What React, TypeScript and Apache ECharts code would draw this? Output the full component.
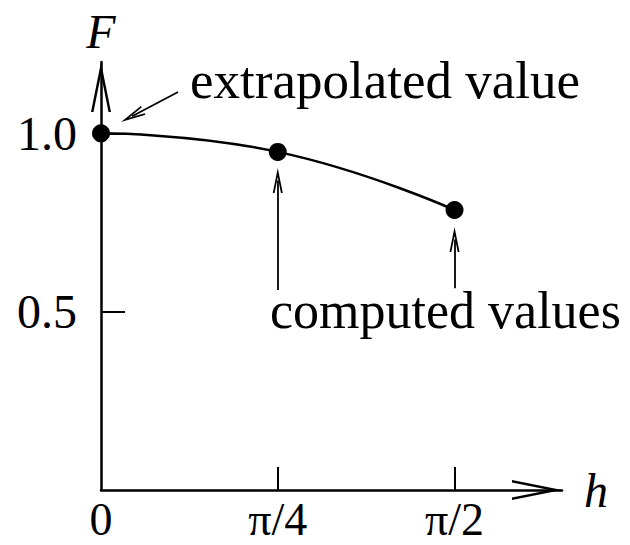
import React, { useEffect, useRef } from 'react';
import * as echarts from 'echarts';

// h measured in units of π
const hValues = [0, 0.25, 0.5];
const fValues = [1.0, 0.948, 0.785];
const xTickValues = [0, 0.25, 0.5];
const xTickLabels = ['0', 'π/4', 'π/2'];
const yTickValues = [0.5, 1.0];
const yTickLabels = ['0.5', '1.0'];
// annotation arrows in data coordinates: [from, to]
const computedArrows = [
  [[0.25, 0.561], [0.25, 0.868]],
  [[0.5, 0.566], [0.5, 0.702]],
];
const extrapolatedArrow = [[0.109, 1.116], [0.044, 1.048]];
const annotationTexts = ['extrapolated value', 'computed values'];

const axisChevron = 'path://M10 0 L20 50 L17.5 50 L10 12.5 L2.5 50 L0 50 Z';
const smallChevron = 'path://M5 0 L10 25 L8.2 25 L5 9 L1.8 25 L0 25 Z';
const FONT = "'Liberation Serif', 'Times New Roman', serif";

export default function App() {
  const ref = useRef<HTMLDivElement>(null);
  useEffect(() => {
    if (!ref.current) return;
    const chart = echarts.init(ref.current, null, { renderer: 'svg' });
    const arrowLines = [...computedArrows, extrapolatedArrow].map((a) => [
      { coord: a[0], symbol: 'none' },
      { coord: a[1], symbol: smallChevron, symbolSize: [10, 25] },
    ]);
    chart.setOption({
      animation: false,
      backgroundColor: '#fff',
      grid: { left: 101, top: 62, width: 461, height: 428, containLabel: false },
      xAxis: {
        type: 'value',
        min: 0,
        max: 0.652,
        name: 'h',
        nameLocation: 'end',
        nameGap: 22,
        nameTextStyle: { fontFamily: FONT, fontStyle: 'italic', fontSize: 48, color: '#000', verticalAlign: 'middle', align: 'left' },
        axisLine: {
          show: true,
          onZero: false,
          lineStyle: { color: '#000', width: 2.5 },
          symbol: ['none', axisChevron],
          symbolSize: [20, 50],
          symbolOffset: [0, -25],
        },
        axisTick: { show: true, inside: true, length: 23, lineStyle: { color: '#000', width: 2 }, customValues: [0.25, 0.5] },
        axisLabel: {
          show: true,
          customValues: xTickValues,
          margin: 29,
          verticalAlign: 'middle',
          fontFamily: FONT,
          fontSize: 46,
          color: '#000',
          formatter: (v: number) => {
            const i = xTickValues.findIndex((t) => Math.abs(t - v) < 1e-6);
            return i >= 0 ? xTickLabels[i] : '';
          },
        },
        splitLine: { show: false },
      },
      yAxis: {
        type: 'value',
        min: 0,
        max: 1.2,
        name: 'F',
        nameLocation: 'end',
        nameGap: 31,
        nameTextStyle: { fontFamily: FONT, fontStyle: 'italic', fontSize: 48, color: '#000', verticalAlign: 'middle', align: 'center' },
        axisLine: {
          show: true,
          onZero: false,
          lineStyle: { color: '#000', width: 2.5 },
          symbol: ['none', axisChevron],
          symbolSize: [20, 50],
          symbolOffset: [0, -25],
        },
        axisTick: { show: true, inside: true, length: 24, lineStyle: { color: '#000', width: 2 }, customValues: yTickValues },
        axisLabel: {
          show: true,
          customValues: yTickValues,
          margin: 24,
          fontFamily: FONT,
          fontSize: 48,
          color: '#000',
          formatter: (v: number) => {
            const i = yTickValues.findIndex((t) => Math.abs(t - v) < 1e-6);
            return i >= 0 ? yTickLabels[i] : '';
          },
        },
        splitLine: { show: false },
      },
      series: [
        {
          type: 'line',
          data: hValues.map((h, i) => [h, fValues[i]]),
          smooth: 0.5,
          clip: false,
          symbol: 'circle',
          symbolSize: 18,
          itemStyle: { color: '#000' },
          lineStyle: { color: '#000', width: 2.5 },
          z: 5,
          markLine: {
            silent: true,
            animation: false,
            label: { show: false },
            lineStyle: { color: '#000', width: 1.8, type: 'solid' },
            symbol: ['none', smallChevron],
            symbolSize: [10, 25],
            data: arrowLines,
          },
        },
      ],
      graphic: [
        {
          type: 'text',
          x: 190,
          y: 79.5,
          style: { text: annotationTexts[0], fontFamily: FONT, fontSize: 53, fill: '#000', align: 'left', verticalAlign: 'middle' },
        },
        {
          type: 'text',
          x: 270,
          y: 310.5,
          style: { text: annotationTexts[1], fontFamily: FONT, fontSize: 52, fill: '#000', align: 'left', verticalAlign: 'middle' },
        },
      ],
    });
    return () => chart.dispose();
  }, []);
  return <div ref={ref} style={{ position: 'fixed', left: 0, top: 0, width: 630, height: 545 }} />;
}
